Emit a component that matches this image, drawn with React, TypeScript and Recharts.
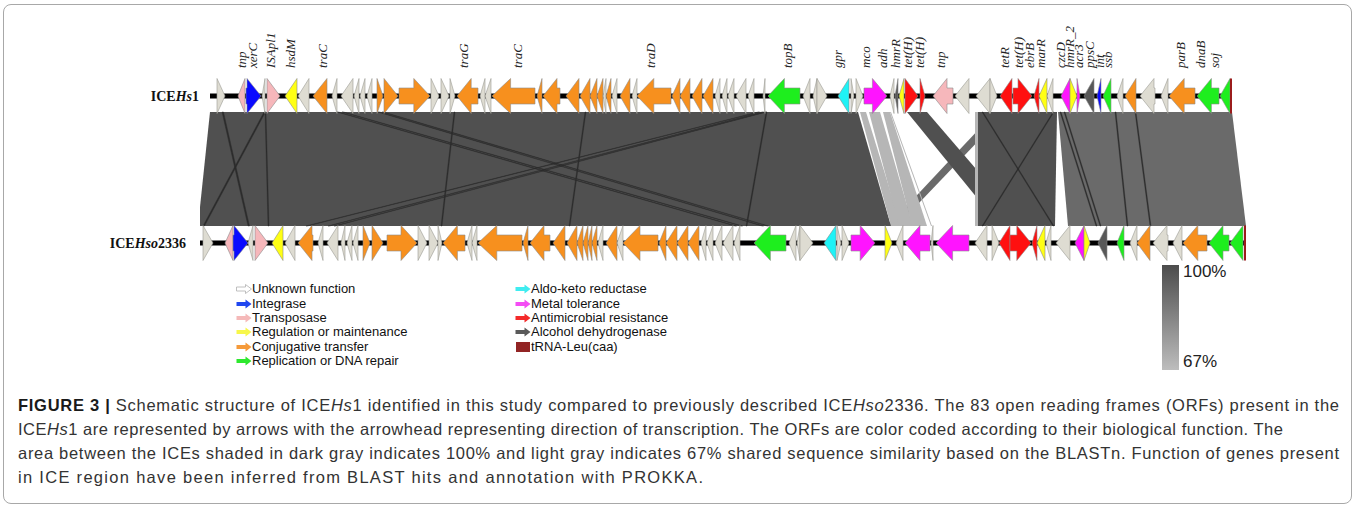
import { ComposedChart, Bar, XAxis, YAxis } from 'recharts';

// gene = [start, end, strand (1 right / -1 left), category]
type Gene = [number, number, number, string];

const HS1_GENES: Gene[] = [
  [217, 225, 1, 'u'], [238, 245, -1, 't'], [246, 261, 1, 'i'], [262, 265, -1, 'u'],
  [267, 280, 1, 't'], [285, 297, -1, 'r'], [298, 309, -1, 'u'], [313, 327, -1, 'c'],
  [332, 337, -1, 'u'], [341, 353, -1, 'u'], [354, 359, -1, 'u'], [360, 365, -1, 'u'],
  [367, 372, -1, 'u'], [377, 383, 1, 'c'], [384, 398, 1, 'c'], [399, 430, 1, 'c'],
  [431, 439, 1, 'u'], [441, 449, 1, 'u'], [450, 455, 1, 'u'], [457, 478, -1, 'c'],
  [480, 485, -1, 'u'], [485, 491, -1, 'u'], [492, 535, -1, 'c'], [537, 542, -1, 'c'],
  [543, 560, -1, 'c'], [566, 579, -1, 'c'], [580, 590, -1, 'c'], [590, 597, -1, 'c'],
  [597, 603, -1, 'c'], [603, 606, -1, 'u'], [606, 611, -1, 'c'], [612, 617, -1, 'u'],
  [620, 630, -1, 'c'], [632, 637, -1, 'u'], [637, 671, -1, 'c'], [672, 680, -1, 'c'],
  [680, 690, -1, 'c'], [692, 702, -1, 'c'], [703, 713, -1, 'c'], [715, 720, -1, 'u'],
  [722, 727, -1, 'u'], [728, 734, -1, 'u'], [736, 746, -1, 'u'], [748, 754, -1, 'u'],
  [763, 765, -1, 'u'], [768, 800, -1, 'p'], [803, 810, -1, 'u'], [813, 817, -1, 'u'],
  [817, 827, 1, 'u'], [838, 849, -1, 'a'], [851, 854, 1, 'u'], [856, 863, 1, 'u'],
  [864, 887, 1, 'm'], [890, 894, -1, 'u'], [895, 898, -1, 'd'], [899, 904, -1, 'r'],
  [905, 918, 1, 'x'], [920, 925, 1, 'x'], [933, 953, -1, 't'], [955, 969, -1, 'u'],
  [976, 990, -1, 'u'], [990, 997, 1, 'u'], [1000, 1012, -1, 'x'], [1013, 1032, 1, 'x'],
  [1034, 1039, -1, 'x'], [1039, 1047, -1, 'r'], [1047, 1053, -1, 'u'], [1061, 1070, -1, 'm'],
  [1070, 1077, 1, 'r'], [1077, 1080, 1, 'm'], [1084, 1094, -1, 'd'], [1097, 1101, -1, 'i'],
  [1103, 1111, -1, 'p'], [1117, 1123, -1, 'u'], [1125, 1136, -1, 'c'], [1140, 1155, -1, 'u'],
  [1161, 1168, -1, 'u'], [1169, 1195, -1, 'c'], [1197, 1219, -1, 'p'], [1220, 1230, -1, 'p'],
  [1230, 1232, 1, 'n'],
];

const HSO_GENES: Gene[] = [
  [203, 213, 1, 'u'], [225, 233, -1, 't'], [233, 248, 1, 'i'], [248, 253, -1, 'u'],
  [255, 268, 1, 't'], [272, 283, -1, 'r'], [285, 295, -1, 'u'], [298, 313, -1, 'c'],
  [318, 323, -1, 'u'], [327, 338, -1, 'u'], [341, 345, -1, 'u'], [347, 352, -1, 'u'],
  [353, 358, -1, 'u'], [363, 370, 1, 'c'], [372, 383, 1, 'c'], [387, 417, 1, 'c'],
  [418, 427, 1, 'u'], [429, 438, 1, 'u'], [438, 442, 1, 'u'], [443, 465, -1, 'c'],
  [467, 472, -1, 'u'], [472, 477, -1, 'u'], [478, 522, -1, 'c'], [523, 528, -1, 'c'],
  [530, 550, -1, 'c'], [553, 565, -1, 'c'], [567, 577, -1, 'c'], [577, 583, -1, 'c'],
  [583, 588, -1, 'c'], [588, 592, -1, 'c'], [592, 597, -1, 'c'], [598, 603, -1, 'u'],
  [606, 617, -1, 'c'], [617, 623, -1, 'u'], [623, 658, -1, 'c'], [659, 666, -1, 'c'],
  [666, 677, -1, 'c'], [677, 688, -1, 'c'], [688, 699, -1, 'c'], [701, 706, -1, 'u'],
  [707, 713, -1, 'u'], [715, 722, -1, 'u'], [723, 733, -1, 'u'], [734, 740, -1, 'u'],
  [754, 786, -1, 'p'], [789, 796, -1, 'u'], [797, 800, -1, 'u'], [800, 813, 1, 'u'],
  [824, 836, -1, 'a'], [837, 841, 1, 'u'], [842, 849, 1, 'u'], [851, 875, 1, 'm'],
  [885, 892, 1, 'r'], [896, 903, -1, 'u'], [905, 930, -1, 'm'], [931, 933, -1, 'u'],
  [936, 969, -1, 'm'], [975, 987, -1, 'u'], [992, 999, 1, 'u'], [999, 1010, -1, 'x'],
  [1010, 1031, 1, 'x'], [1032, 1037, -1, 'x'], [1037, 1045, -1, 'r'], [1046, 1051, -1, 'u'],
  [1056, 1070, -1, 'u'], [1075, 1084, -1, 'm'], [1084, 1090, 1, 'r'], [1098, 1107, -1, 'd'],
  [1117, 1124, -1, 'p'], [1130, 1137, -1, 'u'], [1137, 1150, -1, 'c'], [1153, 1168, -1, 'u'],
  [1173, 1182, -1, 'u'], [1183, 1207, -1, 'c'], [1209, 1229, -1, 'p'], [1230, 1243, -1, 'p'],
  [1244, 1246, 1, 'n'],
];

// gene names written above ICEHs1: [name, position]
const HS1_LABELS: [string, number][] = [
  ['tnp', 242], ['xerC', 253], ['ISApl1', 271], ['hsdM', 291], ['traC', 323],
  ['traG', 464], ['traC', 518], ['traD', 651], ['topB', 788], ['gpr', 838],
  ['mco', 866], ['adh', 883], ['hmrR', 896], ['tet(H)', 908], ['tet(H)', 920],
  ['tnp', 941], ['tetR', 1005], ['tet(H)', 1019], ['ebrB', 1030], ['marR', 1041],
  ['czcD', 1061], ['hmrR_2', 1070], ['acr3', 1079], ['ppsC', 1090], ['int', 1100],
  ['ssb', 1108], ['parB', 1181], ['dnaB', 1201], ['soj', 1215],
];

// backbone extent of each element [start, end]
const HS1_BACKBONE: [number, number] = [210, 1232];
const HSO_BACKBONE: [number, number] = [197, 1246];

// BLASTn matches: [Hs1 start, Hs1 end, Hso start, Hso end, shade]
const LINKS: [number, number, number, number, string][] = [
  [1058, 1232, 1068, 1246, 'mid'],
  [995, 1006, 888, 897, 'mid'],
  [907, 927, 1000, 1025, 'dark'],
  [210, 858, 198, 891, 'dark'],
  [860, 866, 891, 901, 'light'],
  [869, 880, 899, 913, 'light'],
  [883, 890, 912, 927, 'light'],
  [890, 891, 931, 932, 'light'],
  [975, 978, 975, 978, 'light'],
  [978, 1057, 978, 1055, 'dark'],
  [222, 223.5, 248, 249.5, 'line'],
  [264, 265.5, 203, 204.5, 'line'],
  [265, 266, 268, 269, 'line'],
  [337, 338.5, 735, 736.5, 'line'],
  [342, 343.5, 741, 742.5, 'line'],
  [378, 379.5, 762, 763.5, 'line'],
  [382, 383.5, 767, 768.5, 'line'],
  [758, 759.5, 306, 307.5, 'line'],
  [762, 763.5, 328, 329.5, 'line'],
  [765, 766.5, 334, 335.5, 'line'],
  [454, 455, 441, 442, 'line'],
  [585, 586, 569, 570, 'line'],
  [766, 767, 746, 747, 'line'],
  [982, 983, 1053, 1054, 'line'],
  [1053, 1054, 982, 983, 'line'],
  [1060, 1061, 1096, 1097, 'line'],
  [1064, 1065, 1100, 1101, 'line'],
  [1115, 1116, 1127, 1128, 'line'],
  [1135, 1136, 1150, 1151, 'line'],
];

const CATEGORY_NAMES: Record<string, string> = {
  u: 'Unknown function',
  i: 'Integrase',
  t: 'Transposase',
  r: 'Regulation or maintenance',
  c: 'Conjugative transfer',
  p: 'Replication or DNA repair',
  a: 'Aldo-keto reductase',
  m: 'Metal tolerance',
  x: 'Antimicrobial resistance',
  d: 'Alcohol dehydrogenase',
  n: 'tRNA-Leu(caa)',
};
const LEGEND_LEFT = ['u', 'i', 't', 'r', 'c', 'p'];
const LEGEND_RIGHT = ['a', 'm', 'x', 'd', 'n'];

const GENE_FILL: Record<string, string> = {
  u: '#dedcd2',
  i: '#0a0aff',
  t: '#f6b7bb',
  r: '#ffff14',
  c: '#f7901e',
  p: '#1eee1e',
  a: '#1ff2f6',
  m: '#ff14ff',
  x: '#ff1010',
  d: '#585858',
  n: '#9b1c1c',
};
const LEGEND_FILL: Record<string, string> = {
  u: '#ffffff',
  i: '#1f46f0',
  t: '#f5b9b9',
  r: '#f7f74a',
  c: '#f59a3a',
  p: '#2ee82e',
  a: '#40ecf0',
  m: '#f44cf4',
  x: '#f42a2a',
  d: '#5a5a5a',
  n: '#922424',
};
const LINK_FILL: Record<string, string> = {
  dark: '#505050',
  mid: '#6a6a6a',
  light: '#b6b6b6',
  line: '#2c2c2c',
};

const TOP_Y = 96;
const BOTTOM_Y = 243;
const LINK_Y = 169;
const HEAD_H = 17.5;
const BODY_H = 8;

const rows = [
  ...LINKS.map(([a1, a2, b1, b2, tone]) => ({ kind: 'link', y: LINK_Y, span: [a1, a2], b1, b2, tone })),
  { kind: 'backbone', y: TOP_Y, span: HS1_BACKBONE },
  { kind: 'backbone', y: BOTTOM_Y, span: HSO_BACKBONE },
  ...HS1_GENES.map(([s, e, dir, cat]) => ({ kind: 'gene', y: TOP_Y, span: [s, e], dir, cat })),
  ...HSO_GENES.map(([s, e, dir, cat]) => ({ kind: 'gene', y: BOTTOM_Y, span: [s, e], dir, cat })),
  ...HS1_LABELS.map(([name, pos]) => ({ kind: 'label', y: TOP_Y, span: [pos - 0.5, pos + 0.5], name })),
];

function arrowPoints(x: number, w: number, cy: number, dir: number) {
  const head = Math.min(w, 14 + Math.max(0, (w - 20) * 0.2));
  let pts: [number, number][];
  if (head >= w) {
    pts = [[0, -HEAD_H], [w, 0], [0, HEAD_H]];
  } else {
    const b = w - head;
    pts = [[0, -BODY_H], [b, -BODY_H], [b, -HEAD_H], [w, 0], [b, HEAD_H], [b, BODY_H], [0, BODY_H]];
  }
  return pts
    .map(([px, py]) => `${dir > 0 ? x + px : x + w - px},${cy + py}`)
    .join(' ');
}

function MapMark(props: any) {
  const { x, y, width, height, payload } = props;
  if (!payload || !Number.isFinite(x) || !Number.isFinite(width)) return null;
  const cy = y + height / 2;

  if (payload.kind === 'link') {
    const [a1, a2] = payload.span;
    const k = width / (a2 - a1);
    const bx1 = x + (payload.b1 - a1) * k;
    const bx2 = x + (payload.b2 - a1) * k;
    const top = cy - 57;
    const bot = cy + 57;
    return (
      <polygon
        points={`${x},${top} ${x + width},${top} ${bx2},${bot} ${bx1},${bot}`}
        fill={LINK_FILL[payload.tone]}
        stroke={payload.tone === 'line' ? '#2c2c2c' : 'none'}
        strokeWidth={0.4}
      />
    );
  }
  if (payload.kind === 'backbone') {
    return <rect x={x} y={cy - 2.5} width={width} height={5} fill="#000" />;
  }
  if (payload.kind === 'label') {
    const cx = x + width / 2;
    const by = cy - 28;
    return (
      <text
        x={cx}
        y={by}
        dy="0.33em"
        transform={`rotate(-90, ${cx}, ${by})`}
        fontFamily="'Liberation Serif', 'Times New Roman', serif"
        fontStyle="italic"
        fontSize={13}
        fill="#222"
      >
        {payload.name}
      </text>
    );
  }
  if (payload.cat === 'n') {
    return <rect x={x} y={cy - HEAD_H} width={Math.max(width, 1.5)} height={HEAD_H * 2} fill={GENE_FILL.n} />;
  }
  return (
    <polygon
      points={arrowPoints(x, width, cy, payload.dir)}
      fill={GENE_FILL[payload.cat]}
      stroke={payload.cat === 'u' ? '#9a9a94' : '#8c8c8c'}
      strokeWidth={0.6}
      strokeLinejoin="miter"
    />
  );
}

const TRACK_NAMES: Record<number, [string, string, string, number]> = {
  [TOP_Y]: ['ICE', 'Hs', '1', 7],
  [BOTTOM_Y]: ['ICE', 'Hso', '2336', -6],
};

function TrackTick(props: any) {
  const { x, y, payload } = props;
  const t = TRACK_NAMES[payload.value];
  if (!t) return null;
  return (
    <text
      x={x + t[3]}
      y={y}
      dy="0.35em"
      textAnchor="end"
      fontFamily="'Liberation Serif', 'Times New Roman', serif"
      fontWeight="bold"
      fontSize={14}
      fill="#111"
    >
      {t[0]}
      <tspan fontStyle="italic">{t[1]}</tspan>
      {t[2]}
    </text>
  );
}

function LegendArrow({ cat }: { cat: string }) {
  if (cat === 'n') {
    return (
      <svg width={16} height={10} style={{ display: 'block' }}>
        <rect x={1} y={0} width={14} height={10} fill={LEGEND_FILL.n} />
      </svg>
    );
  }
  return (
    <svg width={16} height={10} style={{ display: 'block' }}>
      <polygon
        points="0.5,3 9.5,3 9.5,0.5 15.5,5 9.5,9.5 9.5,7 0.5,7"
        fill={LEGEND_FILL[cat]}
        stroke={cat === 'u' ? '#b0b0b0' : 'none'}
        strokeWidth={0.8}
      />
    </svg>
  );
}

function LegendColumn({ cats, left }: { cats: string[]; left: number }) {
  return (
    <div style={{ position: 'absolute', left, top: 282 }}>
      {cats.map((c) => (
        <div key={c} style={{ display: 'flex', alignItems: 'center', height: 14.4 }}>
          <LegendArrow cat={c} />
          <span style={{ fontFamily: "'Liberation Sans', Arial, sans-serif", fontSize: 13, color: '#111', lineHeight: '14px' }}>
            {CATEGORY_NAMES[c]}
          </span>
        </div>
      ))}
    </div>
  );
}

const CAPTION_FONT = "'Liberation Sans', Arial, sans-serif";

export default function App() {
  return (
    <div style={{ position: 'absolute', left: 0, top: 0, width: 1358, height: 511, background: '#fff', overflow: 'hidden' }}>
      <div
        style={{
          position: 'absolute', left: 3, top: 4, width: 1349, height: 500,
          border: '1px solid #a8a8a8', borderRadius: 8, boxSizing: 'border-box',
        }}
      />
      <div style={{ position: 'absolute', left: 0, top: 0 }}>
        <ComposedChart
          width={1358}
          height={270}
          layout="vertical"
          data={rows}
          margin={{ top: 0, right: 108, bottom: 0, left: 0 }}
        >
          <XAxis type="number" domain={[200, 1250]} allowDataOverflow hide />
          <YAxis
            type="number"
            dataKey="y"
            domain={[0, 270]}
            ticks={[TOP_Y, BOTTOM_Y]}
            interval={0}
            width={200}
            axisLine={false}
            tickLine={false}
            tick={<TrackTick />}
          />
          <Bar dataKey="span" barSize={35} shape={MapMark} isAnimationActive={false} />
        </ComposedChart>
      </div>

      <LegendColumn cats={LEGEND_LEFT} left={236} />
      <LegendColumn cats={LEGEND_RIGHT} left={515} />

      <div
        style={{
          position: 'absolute', left: 1162, top: 265, width: 17, height: 105,
          background: 'linear-gradient(#4c4c4c, #bdbdbd)',
        }}
      />
      <div style={{ position: 'absolute', left: 1183, top: 262, fontFamily: CAPTION_FONT, fontSize: 17, color: '#222' }}>100%</div>
      <div style={{ position: 'absolute', left: 1183, top: 352, fontFamily: CAPTION_FONT, fontSize: 17, color: '#222' }}>67%</div>

      <svg width={1358} height={120} style={{ position: 'absolute', left: 0, top: 390 }}>
        <g fontFamily={CAPTION_FONT} fontSize={16.5} fill="#333">
          <text x={18} y={21} textLength={1321} lengthAdjust="spacing">
            <tspan fontWeight="bold" fill="#1a1a1a">FIGURE 3 |</tspan> Schematic structure of ICE
            <tspan fontStyle="italic">Hs</tspan>1 identified in this study compared to previously described ICE
            <tspan fontStyle="italic">Hso</tspan>2336. The 83 open reading frames (ORFs) present in the
          </text>
          <text x={18} y={45} textLength={1265} lengthAdjust="spacing">
            ICE<tspan fontStyle="italic">Hs</tspan>1 are represented by arrows with the arrowhead representing direction of transcription. The ORFs are color coded according to their biological function. The
          </text>
          <text x={18} y={69} textLength={1321} lengthAdjust="spacing">
            area between the ICEs shaded in dark gray indicates 100% and light gray indicates 67% shared sequence similarity based on the BLASTn. Function of genes present
          </text>
          <text x={18} y={93} textLength={685} lengthAdjust="spacing">
            in ICE region have been inferred from BLAST hits and annotation with PROKKA.
          </text>
        </g>
      </svg>
    </div>
  );
}
